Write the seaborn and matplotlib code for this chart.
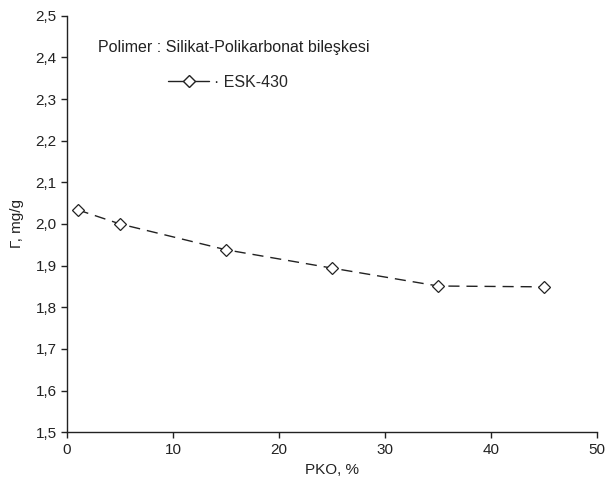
import matplotlib
matplotlib.use("Agg")
import matplotlib.pyplot as plt
from matplotlib.lines import Line2D
import seaborn as sns
import pandas as pd

pko = [1, 5, 15, 25, 35, 45]
gamma = [2.034, 2.000, 1.938, 1.894, 1.851, 1.849]
series_name = "ESK-430"
note = "Polimer : Silikat-Polikarbonat bileşkesi"
xticks = [0, 10, 20, 30, 40, 50]
yticks = [1.5, 1.6, 1.7, 1.8, 1.9, 2.0, 2.1, 2.2, 2.3, 2.4, 2.5]

sns.set_style("ticks")
plt.rcParams['font.family'] = ['Liberation Sans', 'DejaVu Sans']

df = pd.DataFrame({"PKO": pko, "G": gamma})

fig = plt.figure(figsize=(6.1, 4.95), dpi=100)
ax = fig.add_axes([0.11, 0.127, 0.869, 0.841])
sns.lineplot(data=df, x="PKO", y="G", ax=ax, color="#222222", linewidth=1.0,
             marker="D", markersize=6, markerfacecolor="white",
             markeredgecolor="#222222", markeredgewidth=0.9)
ax.lines[0].set_dashes([8, 5])

ax.set_xlim(0, 50)
ax.set_ylim(1.5, 2.5)
ax.set_xticks(xticks)
ax.set_yticks(yticks)
ax.set_xticklabels([str(v) for v in xticks])
ax.set_yticklabels([f"{v:.1f}".replace(".", ",") for v in yticks])
ax.tick_params(labelsize=11, colors="#222222", length=4, width=1, direction="out")
for s in ["top", "right"]:
    ax.spines[s].set_visible(False)
for s in ["left", "bottom"]:
    ax.spines[s].set_color("#222222")
    ax.spines[s].set_linewidth(1.0)

ax.set_xlabel("PKO, %", fontsize=11, color="#222222", labelpad=5)
ax.set_ylabel("Γ, mg/g", fontsize=11, color="#222222", labelpad=8)

ax.text(0.058, 0.923, note, transform=ax.transAxes, fontsize=11.5, color="#222222",
        va="center", ha="left")
handle = Line2D([], [], color="#222222", linewidth=1.0, marker="D", markersize=6,
                markerfacecolor="white", markeredgecolor="#222222")
ax.legend([handle], ["· " + series_name], loc="center left",
          bbox_to_anchor=(0.163, 0.841), frameon=False, fontsize=11.5,
          handlelength=2.6, handletextpad=0.3)

fig.savefig("out.png", dpi=100)
